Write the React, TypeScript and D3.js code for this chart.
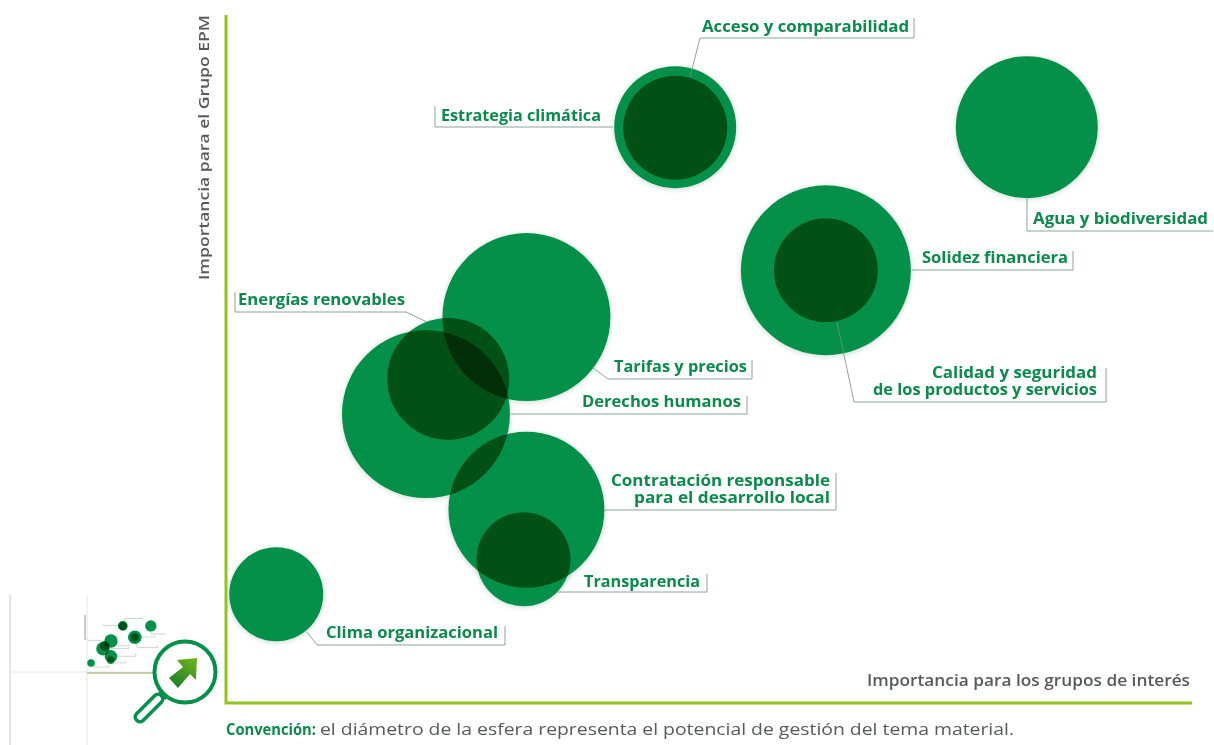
import React, { useEffect, useRef } from 'react'

import * as d3 from 'd3'

// values, on a 0-10 scale for both axes
const topics = [
  'Estrategia climática',
  'Acceso y comparabilidad',
  'Agua y biodiversidad',
  'Solidez financiera',
  'Calidad y seguridad de los productos y servicios',
  'Tarifas y precios',
  'Derechos humanos',
  'Energías renovables',
  'Contratación responsable para el desarrollo local',
  'Transparencia',
  'Clima organizacional',
]
const groupImportance = [4.65, 4.65, 8.29, 6.21, 6.21, 3.11, 2.07, 2.3, 3.11, 3.08, 0.52]
const epmImportance = [8.37, 8.36, 8.37, 6.29, 6.29, 5.61, 4.2, 4.71, 2.81, 2.09, 1.58]
const potential = [6.1, 5.2, 7.1, 8.5, 5.2, 8.4, 8.4, 6.1, 7.8, 4.7, 4.7]

const xAxisTitle = 'Importancia para los grupos de interés'
const yAxisTitle = 'Importancia para el Grupo EPM'
const captionHead = 'Convención:'
const captionBody = 'el diámetro de la esfera representa el potencial de gestión del tema material.'

// label layout, in pixels: leader route, text lines, anchor, right or left edge
const callouts = [
  { route: [[613, 127], [435, 127], [435, 106]], lines: ['Estrategia climática'], widths: [160], x: 441, y: 121, anchor: 'start' },
  { route: [[690, 77], [700, 38], [914, 38], [914, 18]], lines: ['Acceso y comparabilidad'], widths: [207], x: 702, y: 32, anchor: 'start' },
  { route: [[1027, 199], [1027, 231], [1213, 231]], lines: ['Agua y biodiversidad'], widths: [175], x: 1033, y: 224, anchor: 'start' },
  { route: [[912, 270], [1073, 270], [1073, 251]], lines: ['Solidez financiera'], widths: [146], x: 922, y: 263, anchor: 'start' },
  { route: [[837, 322], [854, 402], [1106, 402], [1106, 368]], lines: ['Calidad y seguridad', 'de los productos y servicios'], widths: [165, 224], x: 1097, y: 378, anchor: 'end' },
  { route: [[593, 368], [608, 379], [752, 379], [752, 360]], lines: ['Tarifas y precios'], widths: [133], x: 614, y: 372, anchor: 'start' },
  { route: [[511, 414], [747, 414], [747, 396]], lines: ['Derechos humanos'], widths: [159], x: 582, y: 407, anchor: 'start' },
  { route: [[427, 322], [406, 312], [235, 312], [235, 292]], lines: ['Energías renovables'], widths: [167], x: 238, y: 305, anchor: 'start' },
  { route: [[605, 510], [836, 510], [836, 473]], lines: ['Contratación responsable', 'para el desarrollo local'], widths: [219, 196], x: 830, y: 486, anchor: 'end' },
  { route: [[557, 592], [707, 592], [707, 574]], lines: ['Transparencia'], widths: [116], x: 584, y: 587, anchor: 'start' },
  { route: [[307, 632], [317, 645], [505, 645], [505, 626]], lines: ['Clima organizacional'], widths: [172], x: 326, y: 638, anchor: 'start' },
]

const GREEN = '#05904a'
const TEXT_GREEN = '#0b8a4c'
const LIME = '#8fc31f'
const GREY = '#58595b'
const FONT = '"Open Sans", Lato, sans-serif'

const App = () => {
  const svgRef = useRef(null)

  useEffect(() => {
    if (svgRef.current) {
      const svg = d3.select(svgRef.current)
      svg.selectAll('*').remove()

      const width = 1214
      const height = 745
      const plot = { left: 226, right: 1192, top: 15, bottom: 703 }

      svg.attr('width', width).attr('height', height).style('isolation', 'isolate')

      const x = d3.scaleLinear().domain([0, 10]).range([plot.left, plot.right])
      const y = d3.scaleLinear().domain([0, 10]).range([plot.bottom, plot.top])
      const radius = d3.scaleLinear().domain([0, 10]).range([0, 100])
      const line = d3.line()

      const defs = svg.append('defs')
      defs
        .append('filter')
        .attr('id', 'soft')
        .attr('x', '-20%')
        .attr('y', '-20%')
        .attr('width', '140%')
        .attr('height', '140%')
        .append('feGaussianBlur')
        .attr('stdDeviation', 2.5)
      defs
        .append('filter')
        .attr('id', 'thumbBlur')
        .append('feGaussianBlur')
        .attr('stdDeviation', 0.5)

      const arrowFill = defs
        .append('linearGradient')
        .attr('id', 'arrowFill')
        .attr('x1', '20%')
        .attr('y1', '100%')
        .attr('x2', '80%')
        .attr('y2', '0%')
      arrowFill.append('stop').attr('offset', '0%').attr('stop-color', '#1c7d2c')
      arrowFill.append('stop').attr('offset', '100%').attr('stop-color', '#6cb01e')

      svg.append('rect').attr('width', width).attr('height', height).attr('fill', '#fff')

      // thumbnail of the whole map, behind the magnifier
      const thumb = svg.append('g').attr('filter', 'url(#thumbBlur)')
      thumb
        .selectAll('line.guide')
        .data([
          [10, 595, 10, 745, '#cfcfcf', 1],
          [87, 595, 87, 745, '#e6e6e6', 1],
          [10, 672, 155, 672, '#e6e6e6', 1],
          [85, 615, 85, 640, '#9a9a8a', 1],
          [87, 673, 160, 673, '#c4cfa8', 2],
        ])
        .join('line')
        .attr('x1', (d) => d[0])
        .attr('y1', (d) => d[1])
        .attr('x2', (d) => d[2])
        .attr('y2', (d) => d[3])
        .attr('stroke', (d) => d[4])
        .attr('stroke-width', (d) => d[5])

      const miniX = d3.scaleLinear().domain([0, 10]).range([87, 164])
      const miniY = d3.scaleLinear().domain([0, 10]).range([671.7, 617])
      thumb
        .selectAll('path')
        .data(callouts)
        .join('path')
        .attr('d', (d) =>
          line(d.route.map((p) => [87 + (p[0] - plot.left) * 0.08, 671.7 + (p[1] - plot.bottom) * 0.08]))
        )
        .attr('fill', 'none')
        .attr('stroke', '#a8bdb1')
        .attr('stroke-width', 0.6)
      const thumbDots = thumb.append('g').style('isolation', 'isolate')
      thumbDots
        .selectAll('circle')
        .data(topics)
        .join('circle')
        .attr('cx', (_, i) => miniX(groupImportance[i]))
        .attr('cy', (_, i) => miniY(epmImportance[i]))
        .attr('r', (_, i) => radius(potential[i]) * 0.08)
        .attr('fill', GREEN)
        .style('mix-blend-mode', 'multiply')

      // soft shadow around the spheres, knocked out so it does not tint them
      svg
        .append('g')
        .selectAll('circle')
        .data(topics)
        .join('circle')
        .attr('cx', (_, i) => x(groupImportance[i]))
        .attr('cy', (_, i) => y(epmImportance[i]) + 1)
        .attr('r', (_, i) => radius(potential[i]) + 0.5)
        .attr('fill', '#0a6a3a')
        .attr('opacity', 0.2)
        .attr('filter', 'url(#soft)')
      svg
        .append('g')
        .selectAll('circle')
        .data(topics)
        .join('circle')
        .attr('cx', (_, i) => x(groupImportance[i]))
        .attr('cy', (_, i) => y(epmImportance[i]))
        .attr('r', (_, i) => radius(potential[i]))
        .attr('fill', '#fff')

      svg
        .append('g')
        .selectAll('circle')
        .data(topics)
        .join('circle')
        .attr('cx', (_, i) => x(groupImportance[i]))
        .attr('cy', (_, i) => y(epmImportance[i]))
        .attr('r', (_, i) => radius(potential[i]))
        .attr('fill', GREEN)
        .style('mix-blend-mode', 'multiply')

      // axes
      svg
        .append('path')
        .attr('d', line([[x(0), plot.top], [x(0), plot.bottom], [plot.right, plot.bottom]]))
        .attr('fill', 'none')
        .attr('stroke', LIME)
        .attr('stroke-width', 3)

      svg
        .append('text')
        .attr('transform', `translate(209,280) rotate(-90)`)
        .attr('textLength', 265)
        .attr('lengthAdjust', 'spacingAndGlyphs')
        .attr('font-family', FONT)
        .attr('font-size', 15)
        .attr('font-weight', 600)
        .attr('fill', GREY)
        .text(yAxisTitle)

      svg
        .append('text')
        .attr('x', 867)
        .attr('y', 686)
        .attr('textLength', 323)
        .attr('lengthAdjust', 'spacingAndGlyphs')
        .attr('font-family', FONT)
        .attr('font-size', 15.5)
        .attr('font-weight', 600)
        .attr('fill', GREY)
        .text(xAxisTitle)

      // leaders and labels
      const callout = svg.append('g').selectAll('g').data(callouts).join('g')
      callout
        .append('path')
        .attr('d', (d) => line(d.route))
        .attr('fill', 'none')
        .attr('stroke', '#6f9080')
        .attr('stroke-width', 0.8)

      callout.each(function (d) {
        const g = d3.select(this)
        d.lines.forEach((text, i) => {
          g.append('text')
            .attr('x', d.x)
            .attr('y', d.y + i * 17)
            .attr('text-anchor', d.anchor)
            .attr('textLength', d.widths[i])
            .attr('lengthAdjust', 'spacingAndGlyphs')
            .attr('font-family', FONT)
            .attr('font-size', 16.5)
            .attr('font-weight', 700)
            .attr('fill', TEXT_GREEN)
            .text(text)
        })
      })

      // caption
      svg
        .append('text')
        .attr('x', 226)
        .attr('y', 735)
        .attr('textLength', 90)
        .attr('lengthAdjust', 'spacingAndGlyphs')
        .attr('font-family', FONT)
        .attr('font-size', 16)
        .attr('font-weight', 700)
        .attr('fill', TEXT_GREEN)
        .text(captionHead)
      svg
        .append('text')
        .attr('x', 320)
        .attr('y', 735)
        .attr('textLength', 694)
        .attr('lengthAdjust', 'spacingAndGlyphs')
        .attr('font-family', FONT)
        .attr('font-size', 16.5)
        .attr('fill', GREY)
        .text(captionBody)

      // magnifier
      const lens = svg.append('g')
      lens
        .append('path')
        .attr('d', line([[140, 717], [158, 699]]))
        .attr('stroke', GREEN)
        .attr('stroke-width', 13)
        .attr('stroke-linecap', 'round')
      lens
        .append('path')
        .attr('d', line([[140, 717], [158, 699]]))
        .attr('stroke', '#fff')
        .attr('stroke-width', 6)
        .attr('stroke-linecap', 'round')
      lens
        .append('path')
        .attr('d', line([[159, 692], [166, 699]]))
        .attr('stroke', GREEN)
        .attr('stroke-width', 2.5)
      lens
        .append('circle')
        .attr('cx', 185)
        .attr('cy', 672)
        .attr('r', 30.5)
        .attr('fill', '#fff')
        .attr('stroke', GREEN)
        .attr('stroke-width', 4)
      lens
        .append('path')
        .attr('d', line([[197, 658], [177, 660], [183, 667], [169, 678], [178, 688], [190, 674], [196, 680]]) + 'Z')
        .attr('fill', 'url(#arrowFill)')
    }
  }, [])

  return <svg ref={svgRef} style={{ position: 'absolute', left: 0, top: 0, display: 'block' }}></svg>
}

export default App
